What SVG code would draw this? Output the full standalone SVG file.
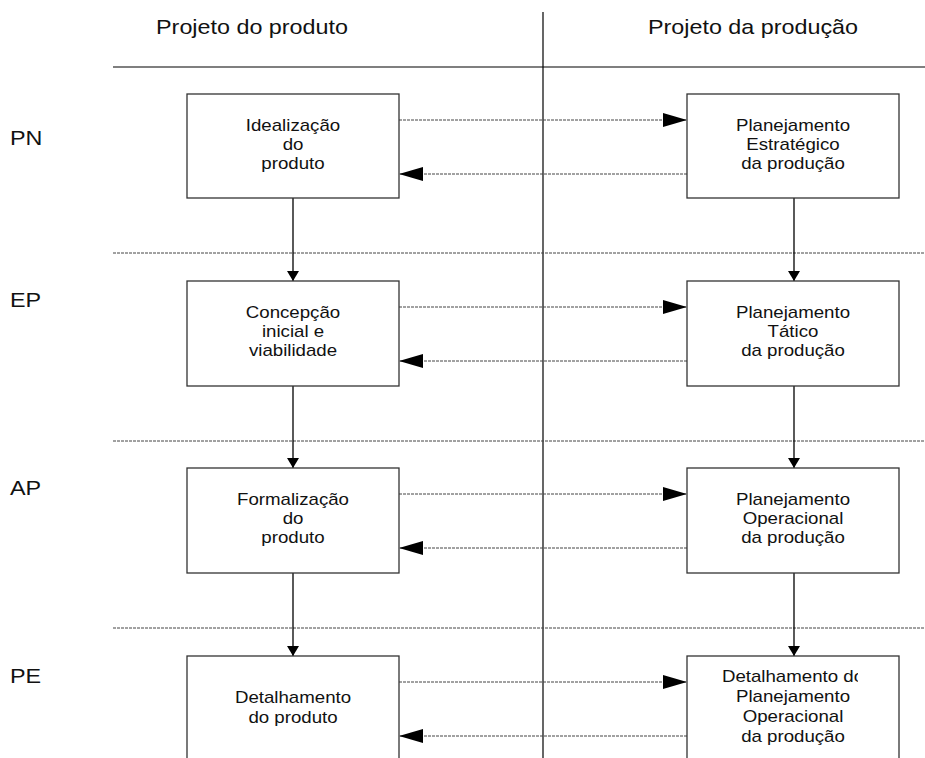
<svg xmlns="http://www.w3.org/2000/svg" width="925" height="758" viewBox="0 0 925 758">
<style>
text{font-family:"Liberation Sans",Arial,sans-serif;fill:#111}
.h{font-size:20px;text-anchor:middle}
.l{font-size:20px}
.b{font-size:16px;text-anchor:middle}
.box{fill:#fff;stroke:#333;stroke-width:1.3}
.sep{stroke:#444;stroke-width:1;stroke-dasharray:3 1}
.ha{stroke:#444;stroke-width:1;stroke-dasharray:3 1;fill:none}
.va{stroke:#000;stroke-width:1.3;fill:none}
</style>
<defs>
<marker id="big" markerUnits="userSpaceOnUse" markerWidth="25" markerHeight="16" refX="24" refY="8" orient="auto"><path d="M0,1 L24,8 L0,15 Z" fill="#000"/></marker>
<marker id="small" markerUnits="userSpaceOnUse" markerWidth="12" markerHeight="12" refX="10" refY="6" orient="auto"><path d="M0,0 L10,6 L0,12 Z" fill="#000"/></marker>
<clipPath id="c4"><rect x="688" y="656" width="170" height="110"/></clipPath>
</defs>
<g id="frame">
<line x1="543" y1="12" x2="543" y2="758" stroke="#000" stroke-width="1.2"/>
<line x1="113" y1="67" x2="925" y2="67" stroke="#000" stroke-width="1.2"/>
<line class="sep" x1="113" y1="253" x2="925" y2="253"/>
<line class="sep" x1="113" y1="441" x2="925" y2="441"/>
<line class="sep" x1="113" y1="628" x2="925" y2="628"/>
<text class="h" transform="translate(252,0) scale(1.167,1)" x="0" y="34">Projeto do produto</text>
<text class="h" transform="translate(753,0) scale(1.167,1)" x="0" y="34">Projeto da produção</text>
<text class="l" transform="translate(10,0) scale(1.167,1)" x="0" y="145">PN</text>
<text class="l" transform="translate(10,0) scale(1.167,1)" x="0" y="307">EP</text>
<text class="l" transform="translate(10,0) scale(1.167,1)" x="0" y="495">AP</text>
<text class="l" transform="translate(10,0) scale(1.167,1)" x="0" y="683">PE</text>
</g>
<g id="connectors">
<line class="ha" x1="399" y1="120" x2="687" y2="120" marker-end="url(#big)"/>
<line class="ha" x1="687" y1="174" x2="399" y2="174" marker-end="url(#big)"/>
<line class="ha" x1="399" y1="307" x2="687" y2="307" marker-end="url(#big)"/>
<line class="ha" x1="687" y1="361" x2="399" y2="361" marker-end="url(#big)"/>
<line class="ha" x1="399" y1="494" x2="687" y2="494" marker-end="url(#big)"/>
<line class="ha" x1="687" y1="548" x2="399" y2="548" marker-end="url(#big)"/>
<line class="ha" x1="399" y1="682" x2="687" y2="682" marker-end="url(#big)"/>
<line class="ha" x1="687" y1="736" x2="399" y2="736" marker-end="url(#big)"/>
<line class="va" x1="293" y1="198" x2="293" y2="281" marker-end="url(#small)"/>
<line class="va" x1="293" y1="386" x2="293" y2="468" marker-end="url(#small)"/>
<line class="va" x1="293" y1="573" x2="293" y2="656" marker-end="url(#small)"/>
<line class="va" x1="794" y1="198" x2="794" y2="281" marker-end="url(#small)"/>
<line class="va" x1="794" y1="386" x2="794" y2="468" marker-end="url(#small)"/>
<line class="va" x1="794" y1="573" x2="794" y2="656" marker-end="url(#small)"/>
</g>
<g id="n-idealizacao">
<rect class="box" x="187" y="94" width="212" height="104"/>
<text class="b" transform="translate(293,0) scale(1.167,1)"><tspan x="0" y="131">Idealização</tspan><tspan x="0" y="150">do</tspan><tspan x="0" y="169">produto</tspan></text>
</g>
<g id="n-estrategico">
<rect class="box" x="687" y="94" width="212" height="104"/>
<text class="b" transform="translate(793,0) scale(1.167,1)"><tspan x="0" y="131">Planejamento</tspan><tspan x="0" y="150">Estratégico</tspan><tspan x="0" y="169">da produção</tspan></text>
</g>
<g id="n-concepcao">
<rect class="box" x="187" y="281" width="212" height="105"/>
<text class="b" transform="translate(293,0) scale(1.167,1)"><tspan x="0" y="318">Concepção</tspan><tspan x="0" y="337">inicial e</tspan><tspan x="0" y="356">viabilidade</tspan></text>
</g>
<g id="n-tatico">
<rect class="box" x="687" y="281" width="212" height="105"/>
<text class="b" transform="translate(793,0) scale(1.167,1)"><tspan x="0" y="318">Planejamento</tspan><tspan x="0" y="337">Tático</tspan><tspan x="0" y="356">da produção</tspan></text>
</g>
<g id="n-formalizacao">
<rect class="box" x="187" y="468" width="212" height="105"/>
<text class="b" transform="translate(293,0) scale(1.167,1)"><tspan x="0" y="505">Formalização</tspan><tspan x="0" y="524">do</tspan><tspan x="0" y="543">produto</tspan></text>
</g>
<g id="n-operacional">
<rect class="box" x="687" y="468" width="212" height="105"/>
<text class="b" transform="translate(793,0) scale(1.167,1)"><tspan x="0" y="505">Planejamento</tspan><tspan x="0" y="524">Operacional</tspan><tspan x="0" y="543">da produção</tspan></text>
</g>
<g id="n-detalhamento-produto">
<rect class="box" x="187" y="656" width="212" height="110"/>
<text class="b" transform="translate(293,0) scale(1.167,1)"><tspan x="0" y="703">Detalhamento</tspan><tspan x="0" y="723">do produto</tspan></text>
</g>
<g id="n-detalhamento-planejamento">
<rect class="box" x="687" y="656" width="212" height="110"/>
<g clip-path="url(#c4)">
<text class="b" transform="translate(793,0) scale(1.167,1)"><tspan x="0" y="682">Detalhamento do</tspan><tspan x="0" y="702">Planejamento</tspan><tspan x="0" y="722">Operacional</tspan><tspan x="0" y="742">da produção</tspan></text>
</g>
</g>
</svg>
